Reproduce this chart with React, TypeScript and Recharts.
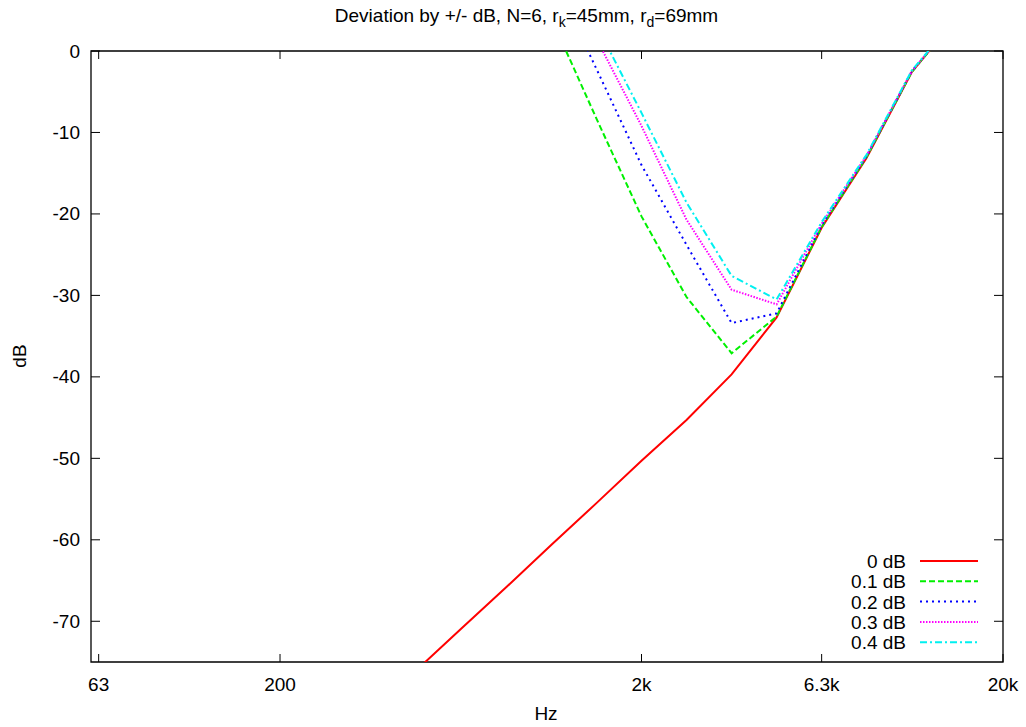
import React from "react";
import { LineChart, Line, XAxis, YAxis, ReferenceArea, Legend } from "recharts";

const freqs = [477, 635, 846, 1127, 1501, 2000, 2664, 3550, 4729, 6300, 8393, 11181, 14896];
const dev0 = [-76, -70.9, -65.8, -60.6, -55.5, -50.3, -45.3, -39.7, -32.7, -21.7, -13.1, -2.6, 4.1];
const dev01 = [null, null, null, 4, -8.3, -20.3, -30.2, -37.1, -32.6, -21.6, -13.0, -2.6, 4.1];
const dev02 = [null, null, null, 9.5, -2.2, -14.0, -23.8, -33.4, -32.2, -21.4, -12.9, -2.5, 4.1];
const dev03 = [null, null, null, 12, 1.5, -9.2, -20.7, -29.3, -31.1, -21.2, -12.8, -2.5, 4.1];
const dev04 = [null, null, null, 14, 3.2, -7.6, -18.6, -27.6, -30.5, -21.0, -12.7, -2.4, 4.1];

const xTicks = [63, 200, 2000, 6300, 20000];
const xTickLabels = ["63", "200", "2k", "6.3k", "20k"];
const yTicks = [0, -10, -20, -30, -40, -50, -60, -70];

const series = [
  { key: "d0", name: "0 dB", color: "#ff0000", dash: undefined, values: dev0 },
  { key: "d1", name: "0.1 dB", color: "#00f000", dash: "6 3", values: dev01 },
  { key: "d2", name: "0.2 dB", color: "#0000ff", dash: "2 4", values: dev02 },
  { key: "d3", name: "0.3 dB", color: "#ff00ff", dash: "1.5 1.5", values: dev03 },
  { key: "d4", name: "0.4 dB", color: "#00f0f0", dash: "7 3 2 3", values: dev04 },
];

const data = freqs.map((f, i) => {
  const row: any = { f };
  series.forEach((s) => (row[s.key] = s.values[i]));
  return row;
});

const FONT = "'Liberation Sans', Arial, sans-serif";
const FS = 19;
const LEFT = 91;
const RIGHT = 1003;
const TOP = 51;
const BOTTOM = 662;

const XTick = (props: any) => {
  const { x, payload } = props;
  const idx = xTicks.indexOf(payload.value);
  return (
    <g>
      <line x1={x} x2={x} y1={BOTTOM} y2={BOTTOM - 8} stroke="#000" />
      <line x1={x} x2={x} y1={TOP} y2={TOP + 8} stroke="#000" />
      <text x={x} y={691} textAnchor="middle" fontSize={FS} fontFamily={FONT} fill="#000">
        {xTickLabels[idx]}
      </text>
    </g>
  );
};

const YTick = (props: any) => {
  const { y, payload } = props;
  return (
    <g>
      <line x1={LEFT} x2={LEFT + 9} y1={y} y2={y} stroke="#000" />
      <line x1={RIGHT - 9} x2={RIGHT} y1={y} y2={y} stroke="#000" />
      <text x={80} y={y + 6.5} textAnchor="end" fontSize={FS} fontFamily={FONT} fill="#000">
        {payload.value}
      </text>
    </g>
  );
};

const LegendBox = () => (
  <svg width={170} height={110}>
    {series.map((s, i) => (
      <g key={s.key}>
        <text x={86} y={20 + i * 20.3} textAnchor="end" fontSize={FS} fontFamily={FONT} fill="#000">
          {s.name}
        </text>
        <line
          x1={100}
          x2={158}
          y1={13 + i * 20.3}
          y2={13 + i * 20.3}
          stroke={s.color}
          strokeWidth={2}
          strokeDasharray={s.dash}
        />
      </g>
    ))}
  </svg>
);

export default function App() {
  return (
    <div style={{ position: "absolute", left: 0, top: 0, width: 1026, height: 727, fontFamily: FONT, background: "#fff" }}>
      <div style={{ position: "absolute", left: 0, top: 5, width: 1053, textAlign: "center", fontSize: 19, color: "#000" }}>
        Deviation by +/- dB, N=6, r<sub style={{ fontSize: 14 }}>k</sub>=45mm, r<sub style={{ fontSize: 14 }}>d</sub>=69mm
      </div>
      <div style={{ position: "absolute", left: 0, top: 703, width: 1092, textAlign: "center", fontSize: FS }}>Hz</div>
      <div
        style={{
          position: "absolute",
          left: 20,
          top: 356,
          fontSize: FS,
          transform: "translate(-50%, -50%) rotate(-90deg)",
          whiteSpace: "nowrap",
        }}
      >
        dB
      </div>
      <LineChart width={1026} height={727} data={data} margin={{ top: TOP, right: 1026 - RIGHT, bottom: 20, left: 0 }}>
        <XAxis
          dataKey="f"
          type="number"
          scale="log"
          domain={[60, 20000]}
          ticks={xTicks}
          tick={<XTick />}
          tickLine={false}
          axisLine={false}
          height={45}
          allowDataOverflow
        />
        <YAxis
          type="number"
          domain={[-75, 0]}
          ticks={yTicks}
          tick={<YTick />}
          tickLine={false}
          axisLine={false}
          width={LEFT}
          allowDataOverflow
        />
        <ReferenceArea x1={60} x2={20000} y1={-75} y2={0} fill="none" stroke="#000" strokeWidth={1.3} ifOverflow="visible" />
        {series.map((s) => (
          <Line
            key={s.key}
            dataKey={s.key}
            name={s.name}
            stroke={s.color}
            strokeWidth={2}
            strokeDasharray={s.dash}
            dot={false}
            isAnimationActive={false}
          />
        ))}
        <Legend
          layout="horizontal"
          verticalAlign="middle"
          align="center"
          content={<LegendBox />}
          wrapperStyle={{ left: 820, top: 548, width: 170, height: 110 }}
        />
      </LineChart>
    </div>
  );
}
